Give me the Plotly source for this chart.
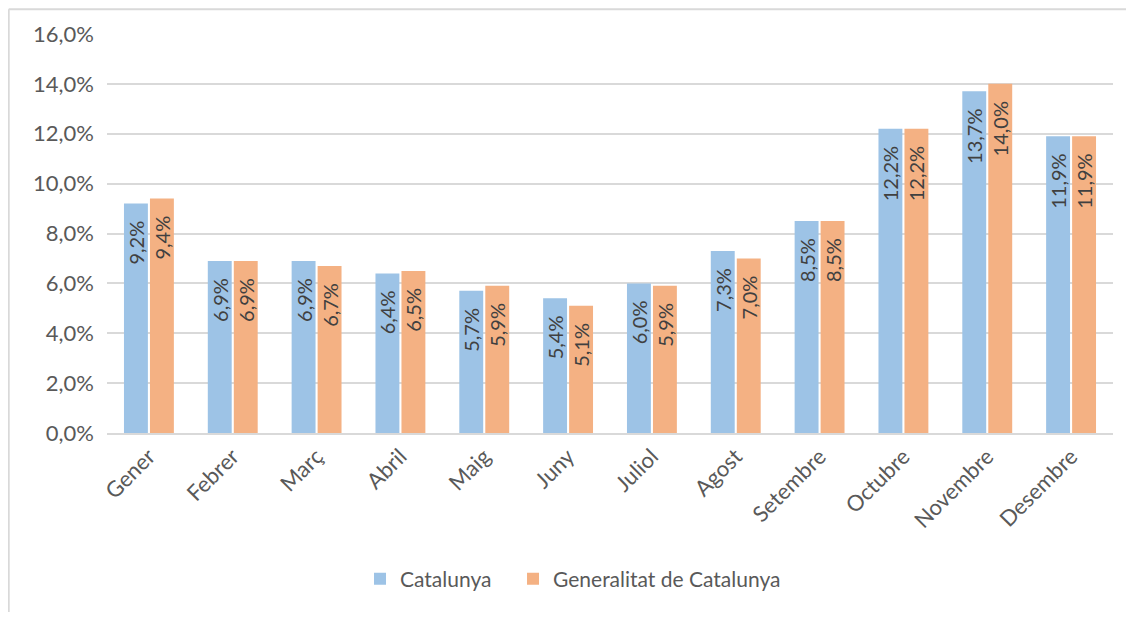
import plotly.graph_objects as go

# dades
mesos = ["Gener", "Febrer", "Març", "Abril", "Maig", "Juny", "Juliol",
         "Agost", "Setembre", "Octubre", "Novembre", "Desembre"]
catalunya = [0.092, 0.069, 0.069, 0.064, 0.057, 0.054, 0.060, 0.073, 0.085, 0.122, 0.137, 0.119]
generalitat = [0.094, 0.069, 0.067, 0.065, 0.059, 0.051, 0.059, 0.070, 0.085, 0.122, 0.140, 0.119]

FONT = "Lato, 'Open Sans', sans-serif"
TEXT_COLOR = "#595959"
PAD = "<span style='color:rgba(0,0,0,0)'>...</span>"

fig = go.Figure()

for name, vals, color, leg in [
    ("Catalunya", catalunya, "#9DC3E6", "legend"),
    ("Generalitat de Catalunya", generalitat, "#F4B183", "legend2"),
]:
    fig.add_trace(
        go.Bar(
            name=name,
            x=mesos,
            y=vals,
            marker_color=color,
            marker_line_width=0,
            texttemplate="%{y:.1%}" + PAD,
            textposition="inside",
            insidetextanchor="end",
            textangle=-90,
            constraintext="none",
            textfont=dict(family=FONT, size=20, color="#404040"),
            hoverinfo="skip",
            legend=leg,
        )
    )

# vora del gràfic (només superior i esquerra visibles)
fig.add_shape(type="line", xref="paper", yref="paper",
              x0=-0.0977, x1=1.02, y0=1.0622, y1=1.0622,
              line=dict(color="#D9D9D9", width=2))
fig.add_shape(type="line", xref="paper", yref="paper",
              x0=-0.0977, x1=-0.0977, y0=1.0622, y1=-0.45,
              line=dict(color="#D9D9D9", width=2))

legend_style = dict(
    orientation="h",
    xanchor="left",
    y=-0.366, yanchor="middle",
    font=dict(size=21, color=TEXT_COLOR),
    itemwidth=30,
)

fig.update_layout(
    width=1118,
    height=604,
    margin=dict(l=99, r=13, t=26, b=176),
    paper_bgcolor="white",
    plot_bgcolor="white",
    separators=",.",
    barmode="group",
    bargap=0.38,
    bargroupgap=0.08,
    font=dict(family=FONT, size=21, color=TEXT_COLOR),
    showlegend=True,
    legend=dict(x=0.2515, **legend_style),
    legend2=dict(x=0.4036, **legend_style),
    xaxis=dict(
        tickangle=-45,
        showgrid=False,
        showline=True,
        linecolor="#D9D9D9",
        linewidth=2,
        ticks="",
        tickfont=dict(size=22, color=TEXT_COLOR),
    ),
    yaxis=dict(
        range=[0, 0.16],
        dtick=0.02,
        tickformat=".1%",
        showgrid=True,
        gridcolor="#D9D9D9",
        gridwidth=1.5,
        zeroline=False,
        showline=False,
        ticks="",
        ticklabelstandoff=12,
        tickfont=dict(size=22, color=TEXT_COLOR),
    ),
)

fig.write_html("out.html")
